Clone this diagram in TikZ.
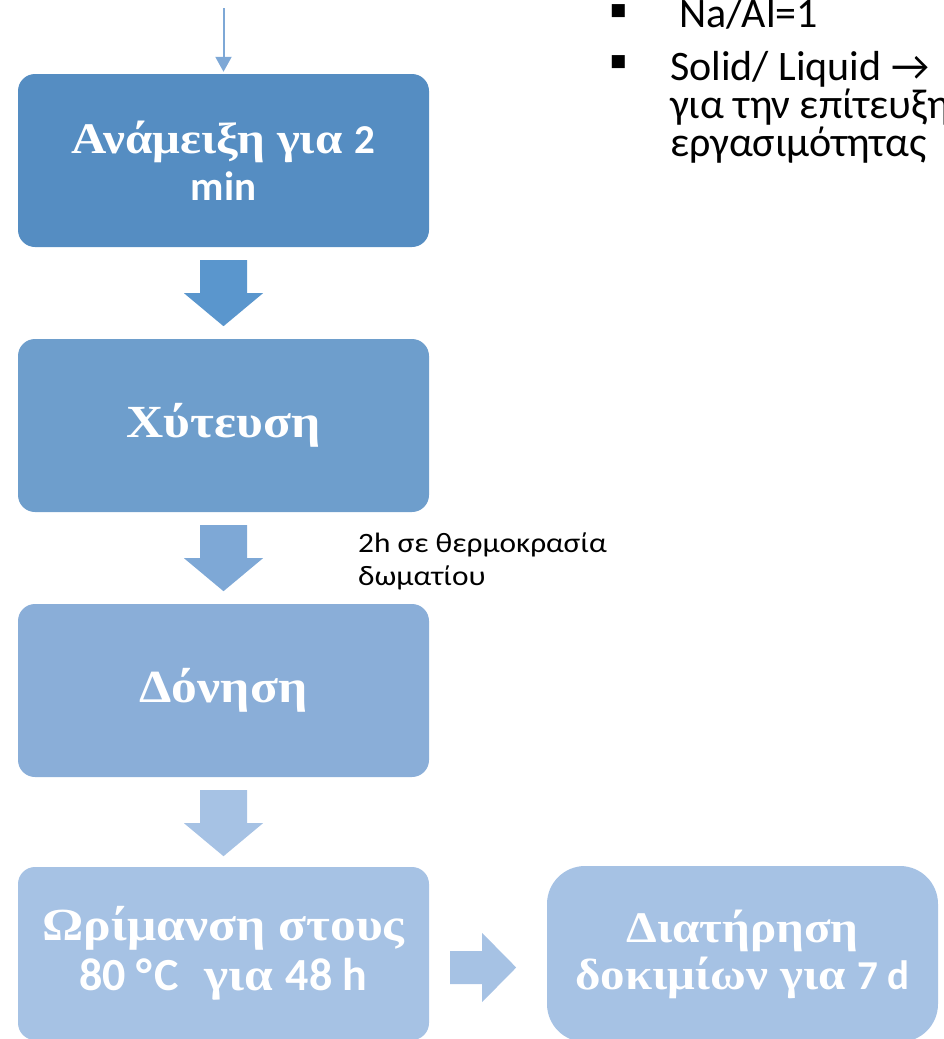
\documentclass[tikz,border=0pt]{standalone}
\usepackage{fontspec}
\setmainfont{Carlito}
\newfontfamily\grsfont[FakeStretch=1.12, Scale=1.15]{Liberation Serif}
\newfontfamily\calbfont[Scale=1.08]{Carlito}
\newfontfamily\calcfont[Scale=1.15]{Carlito}
\newfontfamily\calsfont[FakeStretch=1.12]{Carlito}
\newfontfamily\calrfont{Carlito}
\newfontfamily\dvfont{DejaVu Sans}
\usetikzlibrary{calc,arrows.meta}
\definecolor{cA}{HTML}{558DC2}
\definecolor{aA}{HTML}{5A96CD}
\definecolor{cB}{HTML}{6E9ECC}
\definecolor{aB}{HTML}{7EA8D6}
\definecolor{cC}{HTML}{8AAED8}
\definecolor{aC}{HTML}{A6C2E4}
\definecolor{cD}{HTML}{A6C2E4}
\definecolor{thinc}{HTML}{7EA8D6}
\newcommand\blockdown[2]{\fill[#2] (#1) ++(-23.5,0) -- ++(47,0) -- ++(0,33) -- ++(16,0) -- ++(-39.5,33) -- ++(-39.5,-33) -- ++(16,0) -- cycle;}
\begin{document}
\begin{tikzpicture}[x=1pt,y=-1pt,
  box/.style={rounded corners=17pt, minimum width=411pt, minimum height=173pt, inner sep=0pt, align=center, text=white, font=\fontsize{38}{47}\selectfont\bfseries\grsfont},
  toptext/.style={anchor=base west, inner sep=0pt, font=\calrfont\fontsize{42}{38}\selectfont},
  lbltext/.style={anchor=base west, inner sep=0pt, font=\calsfont\fontsize{28}{33}\selectfont},
  bullet/.style={inner sep=0pt, font=\dvfont\fontsize{17}{17}\selectfont}]
\useasboundingbox (0,0) rectangle (943,1039);
\clip (0,0) rectangle (943,1039);

\node[box, fill=cA] (b1) at (223.5,160.5) {Ανάμειξη για\ {\calbfont 2}\\{\calbfont min}};
\node[box, fill=cB, font=\fontsize{40}{47}\selectfont\bfseries\grsfont] (b2) at (223.5,425.5) {Χύτευση};
\node[box, fill=cC, font=\fontsize{40}{47}\selectfont\bfseries\grsfont] (b3) at (223.5,690.5) {Δόνηση};
\node[box, fill=cD, font=\fontsize{40}{50}\selectfont\bfseries\grsfont] (b4) at (223.5,953.5) {Ωρίμανση στους\\{\calcfont 80 °\kern2pt C}\ \ για {\calcfont 48 h}};
\node[box, fill=cD, rounded corners=38pt, minimum width=391pt, minimum height=176pt] (b5) at (742.5,954) {Διατήρηση\\δοκιμίων για {\calbfont 7 d}};

\coordinate (in) at (223.5,8);
\draw[thinc, line width=2pt, -{Triangle[width=16pt,length=15pt]}, shorten >=2pt] (in) -- (b1.north);

\path ($(b1.south)+(0,13)$) coordinate (a1);
\path ($(b2.south)+(0,13)$) coordinate (a2);
\path ($(b3.south)+(0,13)$) coordinate (a3);
\blockdown{a1}{aA}
\blockdown{a2}{aB}
\blockdown{a3}{aC}

\path ($(b4.east)+(21,-2.5)$) coordinate (r1);
\fill[aC] (r1) -- ++(32,0) -- ++(0,-18) -- ++(34,34.5) -- ++(-34,34.5) -- ++(0,-18) -- ++(-32,0) -- cycle;

\node[lbltext] (l1) at (358,552) {2h σε θερμοκρασία};
\node[lbltext] (l2) at (358,585) {δωματίου};

\node[bullet] (u1) at (618.5,11) {■};
\node[bullet] (u2) at (618.5,62.5) {■};
\node[toptext] (t1) at (670,27) {\ Na/Al=1};
\node[toptext] (t2) at (670,80) {Solid/ Liquid →};
\node[toptext] (t3) at (670,118) {για την επίτευξη};
\node[toptext] (t4) at (670,156) {εργασιμότητας};
\end{tikzpicture}
\end{document}
